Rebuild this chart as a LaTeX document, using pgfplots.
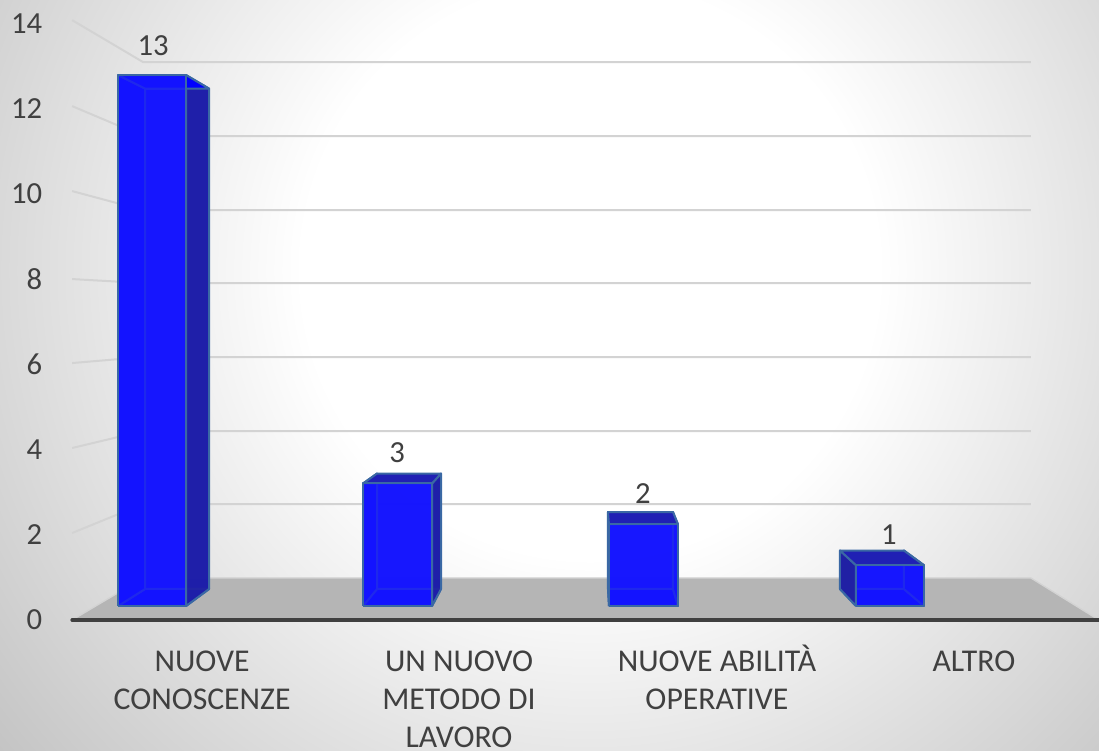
\documentclass[border=0pt]{standalone}
\usepackage{pgfplots}
\pgfplotsset{compat=1.18}
\usepackage{fontspec}
\setmainfont{Carlito}
\definecolor{txt}{HTML}{404040}
\definecolor{gridc}{HTML}{D3D3D3}
\definecolor{floorc}{HTML}{B5B5B5}
\definecolor{edgec}{HTML}{3A68A4}
\definecolor{frontc}{HTML}{1818FF}
\definecolor{sidec}{HTML}{2020A4}
\definecolor{topc}{HTML}{2020B4}
\pgfdeclareradialshading{bgshade}{\pgfpoint{0bp}{0bp}}{color(0bp)=(white); color(9bp)=(white); color(25bp)=(black!25); color(50bp)=(black!25)}
% a face of a bar: rows are  x(px)  value  depth(0 front, 1 back)
\newcommand{\qf}[2]{\addplot[#1,line width=1.5pt,line join=round,forget plot] table[row sep=\\,x=x,y expr={(620-((606-17*\thisrow{d})-(40.85-2.35*\thisrow{d})*\thisrow{v}))/42.64}]{x v d\\#2};}
% wall and floor lines, rows are x(px) y(px)
\newcommand{\wl}[2]{\addplot[#1,forget plot] table[row sep=\\,x=x,y expr={(620-\thisrow{p})/42.64}]{x p\\#2};}
\newcommand{\threedbar}[8]{%
\qf{fill=blue,fill opacity=0.92,draw=edgec}{#3 0 1\\#4 0 1\\#4 #5 1\\#3 #5 1\\#3 0 1\\}
\qf{fill=blue,draw=edgec}{#1 0 0\\#2 0 0\\#4 0 1\\#3 0 1\\#1 0 0\\}
\qf{fill=#6,draw=edgec}{#1 0 0\\#3 0 1\\#3 #5 1\\#1 #5 0\\#1 0 0\\}
\qf{fill=#7,fill opacity=0.94,draw=edgec}{#2 0 0\\#4 0 1\\#4 #5 1\\#2 #5 0\\#2 0 0\\}
\qf{fill=#8,draw=edgec}{#1 #5 0\\#2 #5 0\\#4 #5 1\\#3 #5 1\\#1 #5 0\\}
\qf{fill=frontc,fill opacity=0.8,draw=edgec}{#1 0 0\\#2 0 0\\#2 #5 0\\#1 #5 0\\#1 0 0\\}
}
\newcommand{\fl}{\vphantom{À}}
\begin{document}
\begin{tikzpicture}
\begin{axis}[
  scale only axis,width=824.25pt,height=563.25pt,
  xmin=0,xmax=1099,ymin=-3.0722,ymax=14.5403,
  axis on top,
  axis line style={draw=none},major tick length=0pt,
  ytick={0,2,...,14},
  xtick={202,459,717,974},
  xticklabels={{\fl NUOVE\\CONOSCENZE},{\fl UN NUOVO\\METODO DI\\LAVORO},{\fl NUOVE ABILITÀ\\OPERATIVE},{\fl ALTRO}},
  tick label style={text=txt},
  x tick label style={font=\fontsize{23.8}{28.4}\selectfont,align=center,anchor=north,inner sep=0pt,yshift=79.5pt},
  y tick label style={font=\fontsize{23}{28.9}\selectfont,anchor=east,inner sep=0pt,xshift=31.75pt},
  /pgf/number format/assume math mode=true,
  clip=true,
]
\path[shading=bgshade] (axis cs:590,{(620-270)/42.64}) circle [radius=600pt];
\wl{gridc,line width=1.5pt}{72 20\\143 62\\1031 62\\}
\wl{gridc,line width=1.5pt}{72 106\\143 136\\1031 136\\}
\wl{gridc,line width=1.5pt}{72 191\\143 210\\1031 210\\}
\wl{gridc,line width=1.5pt}{72 279\\143 283\\1031 283\\}
\wl{gridc,line width=1.5pt}{72 363\\143 357\\1031 357\\}
\wl{gridc,line width=1.5pt}{72 448\\143 431\\1031 431\\}
\wl{gridc,line width=1.5pt}{72 533\\143 504\\1031 504\\}
\wl{fill=floorc,draw=gridc,line width=1pt}{72 620\\143 578\\1031 578\\1099 620\\72 620\\}
\threedbar{118}{186}{145}{209}{13}{blue}{sidec}{blue}
\threedbar{363}{432}{377}{441}{3}{blue}{sidec}{topc}
\threedbar{609}{678}{608}{673}{2}{sidec}{blue}{topc}
\threedbar{856}{924}{840}{904}{1}{sidec}{blue}{topc}
\wl{black!75,line width=2.6pt,line cap=round}{72 620\\1099 620\\}
\node[text=txt,font=\fontsize{23}{28.9}\selectfont,inner sep=0pt] at (axis cs:153,{(620-46)/42.64}) {13};
\node[text=txt,font=\fontsize{23}{28.9}\selectfont,inner sep=0pt] at (axis cs:397,{(620-453)/42.64}) {3};
\node[text=txt,font=\fontsize{23}{28.9}\selectfont,inner sep=0pt] at (axis cs:643,{(620-494)/42.64}) {2};
\node[text=txt,font=\fontsize{23}{28.9}\selectfont,inner sep=0pt] at (axis cs:889,{(620-535)/42.64}) {1};
\end{axis}
\end{tikzpicture}
\end{document}
